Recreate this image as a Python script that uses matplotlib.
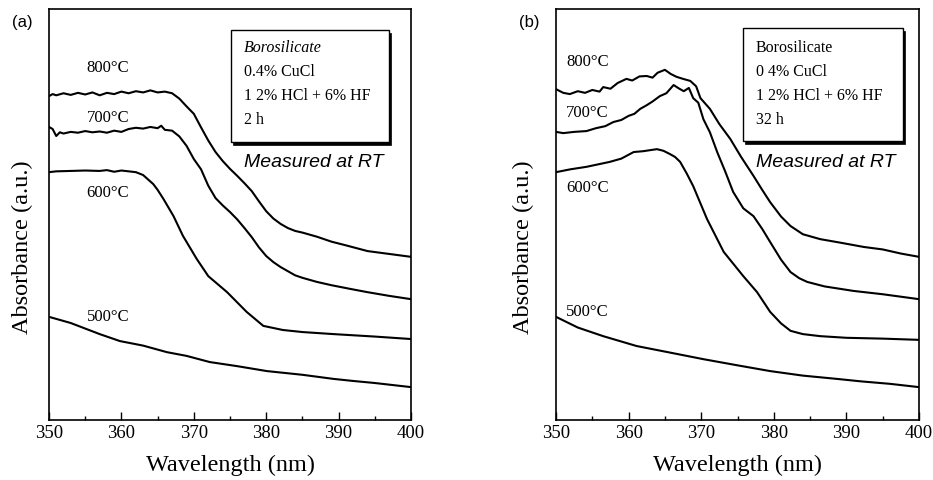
import matplotlib.pyplot as plt
from matplotlib.patches import Rectangle
from matplotlib.ticker import MultipleLocator

plt.rcParams['font.family'] = ['Liberation Serif', 'DejaVu Serif']

# ---- panel (a): 2 h etching ----
wl_a800 = [350, 350.5, 351, 352, 353, 354, 355, 356, 357, 358, 359, 360, 361, 362, 363, 364, 365, 366, 367,
           368, 369, 370, 371, 372, 373, 374, 375, 376, 377, 378, 379, 380, 381, 382, 383, 384, 385, 387, 389,
           391, 394, 397, 400]
ab_a800 = [0.788, 0.793, 0.790, 0.795, 0.791, 0.796, 0.792, 0.797, 0.790, 0.796, 0.793, 0.799, 0.795, 0.800,
           0.797, 0.802, 0.797, 0.799, 0.795, 0.782, 0.763, 0.745, 0.712, 0.680, 0.652, 0.630, 0.611, 0.594,
           0.576, 0.557, 0.532, 0.508, 0.490, 0.477, 0.467, 0.460, 0.456, 0.446, 0.434, 0.425, 0.411, 0.404, 0.397]

wl_a700 = [350, 350.5, 351, 351.5, 352, 353, 354, 355, 356, 357, 358, 359, 360, 361, 362, 363, 364, 365, 365.5,
           366, 367, 368, 369, 370, 371, 372, 373, 374, 375, 376, 377, 378, 379, 380, 381, 382, 383, 384, 385,
           387, 389, 391.6, 394, 397, 400]
ab_a700 = [0.713, 0.708, 0.691, 0.700, 0.697, 0.701, 0.699, 0.703, 0.700, 0.702, 0.699, 0.704, 0.701, 0.708,
           0.711, 0.709, 0.713, 0.710, 0.716, 0.706, 0.704, 0.690, 0.667, 0.635, 0.610, 0.570, 0.540, 0.522,
           0.506, 0.488, 0.467, 0.445, 0.420, 0.399, 0.384, 0.372, 0.362, 0.352, 0.346, 0.336, 0.328, 0.319,
           0.311, 0.302, 0.294]

wl_a600 = [350, 351, 353, 355, 357, 358, 359, 360, 361, 362, 363, 364.4, 365, 365.8, 367.2, 368.5, 370.4, 372,
           374.6, 377.3, 379.6, 382.3, 385, 389.3, 395, 400]
ab_a600 = [0.603, 0.605, 0.606, 0.607, 0.606, 0.608, 0.604, 0.607, 0.605, 0.603, 0.596, 0.574, 0.560, 0.538,
           0.496, 0.448, 0.392, 0.350, 0.311, 0.263, 0.229, 0.219, 0.214, 0.209, 0.203, 0.197]

wl_a500 = [350, 353, 357, 359.8, 363, 366.3, 369, 372.2, 376, 380.1, 385, 389.3, 392, 395, 400]
ab_a500 = [0.251, 0.236, 0.209, 0.192, 0.181, 0.165, 0.156, 0.141, 0.131, 0.119, 0.110, 0.100, 0.095, 0.090, 0.080]

# ---- panel (b): 32 h etching ----
wl_b800 = [350, 351, 351.9, 353, 354, 355, 356, 356.5, 357.5, 358.5, 359.7, 360.5, 361.5, 362.5, 363.3, 364,
           365, 365.8, 366.6, 367.5, 368.5, 369.3, 369.9, 371.2, 372.5, 374, 375.5, 377.2, 378.4, 379.5, 381,
           382.3, 384, 386.4, 389, 392.4, 395, 397.5, 400]
ab_b800 = [0.805, 0.796, 0.793, 0.800, 0.796, 0.803, 0.799, 0.810, 0.806, 0.820, 0.830, 0.826, 0.836, 0.837,
           0.833, 0.845, 0.852, 0.842, 0.835, 0.830, 0.825, 0.812, 0.783, 0.757, 0.720, 0.684, 0.640, 0.594,
           0.560, 0.530, 0.495, 0.472, 0.452, 0.440, 0.432, 0.421, 0.415, 0.405, 0.397]

wl_b700 = [350, 351, 352.5, 354.2, 355.5, 356.8, 357.9, 359, 360, 360.8, 361.6, 362.5, 363.3, 364.3, 365.2,
           366.2, 366.9, 367.6, 368.3, 368.9, 369.6, 370.3, 371.2, 372.2, 373.3, 374.4, 375.8, 377.2, 378.4,
           379.5, 381, 382.3, 383.5, 384.6, 387, 391, 395, 400]
ab_b700 = [0.701, 0.698, 0.701, 0.703, 0.710, 0.715, 0.725, 0.730, 0.740, 0.745, 0.757, 0.766, 0.775, 0.788,
           0.795, 0.815, 0.807, 0.800, 0.808, 0.783, 0.772, 0.732, 0.700, 0.652, 0.605, 0.555, 0.515, 0.496,
           0.465, 0.433, 0.390, 0.360, 0.345, 0.336, 0.325, 0.314, 0.306, 0.294]

wl_b600 = [350, 352, 354.2, 357.4, 359, 360.7, 362, 363.9, 364.8, 365.7, 366.4, 367.1, 368, 368.9, 370.8, 373.1,
           375.8, 377.7, 379.5, 381, 382.3, 384, 386.4, 390, 395, 400]
ab_b600 = [0.603, 0.610, 0.616, 0.628, 0.636, 0.652, 0.654, 0.659, 0.655, 0.647, 0.640, 0.628, 0.600, 0.569,
           0.489, 0.409, 0.350, 0.311, 0.263, 0.235, 0.217, 0.209, 0.204, 0.200, 0.198, 0.195]

wl_b500 = [350, 353, 356.5, 361.1, 366, 370.3, 375, 379.5, 384, 388.7, 392, 396, 400]
ab_b500 = [0.251, 0.225, 0.204, 0.180, 0.163, 0.148, 0.133, 0.119, 0.108, 0.100, 0.094, 0.088, 0.080]

temps = ['800°C', '700°C', '600°C', '500°C']
box_a = ['Borosilicate', '0.4% CuCl', '1 2% HCl + 6% HF', '2 h']
box_b = ['Borosilicate', '0 4% CuCl', '1 2% HCl + 6% HF', '32 h']

W, H = 933, 481
fig = plt.figure(figsize=(W / 100, H / 100), dpi=100)


def panel(left_px, right_px, curves, lab_x, lab_y, box_lines, box_xy, text_x, tag, tag_x, ylab_x):
    ax = fig.add_axes([left_px / W, (H - 421) / H, (right_px - left_px) / W, 411 / H])
    for wl, ab in curves:
        ax.plot(wl, ab, color='black', lw=1.5)
    ax.set_xlim(350, 400)
    ax.set_ylim(0, 1)
    ax.set_yticks([])
    ax.xaxis.set_major_locator(MultipleLocator(10))
    ax.xaxis.set_minor_locator(MultipleLocator(5))
    ax.tick_params(axis='x', which='major', direction='in', length=6, width=1, labelsize=13.5, pad=3)
    ax.tick_params(axis='x', which='minor', direction='in', length=3, width=1)
    for s in ax.spines.values():
        s.set_linewidth(1.2)
    for t, y in zip(temps, lab_y):
        ax.text(lab_x, y, t, fontsize=12, va='center', ha='left')
    # info box with drop shadow
    x0, x1, y0, y1 = box_xy
    ax.add_patch(Rectangle((x0 + 0.005, y0 - 0.007), x1 - x0, y1 - y0, transform=ax.transAxes,
                           facecolor='black', edgecolor='black', lw=0.5, zorder=3))
    ax.add_patch(Rectangle((x0, y0), x1 - x0, y1 - y0, transform=ax.transAxes,
                           facecolor='white', edgecolor='black', lw=1, zorder=4))
    for i, line in enumerate(box_lines):
        st = 'italic' if (i == 0 and tag == '(a)') else 'normal'
        ax.text(text_x, 0.908 - i * 0.0585, line, transform=ax.transAxes, fontsize=11.5,
                va='center', ha='left', style=st, zorder=5)
    ax.text(text_x, 0.630, 'Measured at RT', transform=ax.transAxes, fontsize=14,
            family='Liberation Sans', style='italic', va='center', ha='left')
    ax.set_xlabel('Wavelength (nm)', fontsize=17.5, labelpad=9)
    fig.text(tag_x / W, 1 - 23 / H, tag, fontsize=12, family='Liberation Sans', va='center', ha='left')
    fig.text(ylab_x / W, 1 - 247 / H, 'Absorbance (a.u.)', fontsize=17.5, rotation=90,
             va='center', ha='center')
    return ax


panel(49, 411,
      [(wl_a800, ab_a800), (wl_a700, ab_a700), (wl_a600, ab_a600), (wl_a500, ab_a500)],
      355.2, [0.859, 0.737, 0.555, 0.253],
      box_a, (0.503, 0.939, 0.676, 0.949), 0.539, '(a)', 12, 22)

panel(556, 919,
      [(wl_b800, ab_b800), (wl_b700, ab_b700), (wl_b600, ab_b600), (wl_b500, ab_b500)],
      351.4, [0.873, 0.749, 0.567, 0.265],
      box_b, (0.515, 0.956, 0.679, 0.954), 0.551, '(b)', 519, 523)

fig.savefig('out.png', dpi=100)
